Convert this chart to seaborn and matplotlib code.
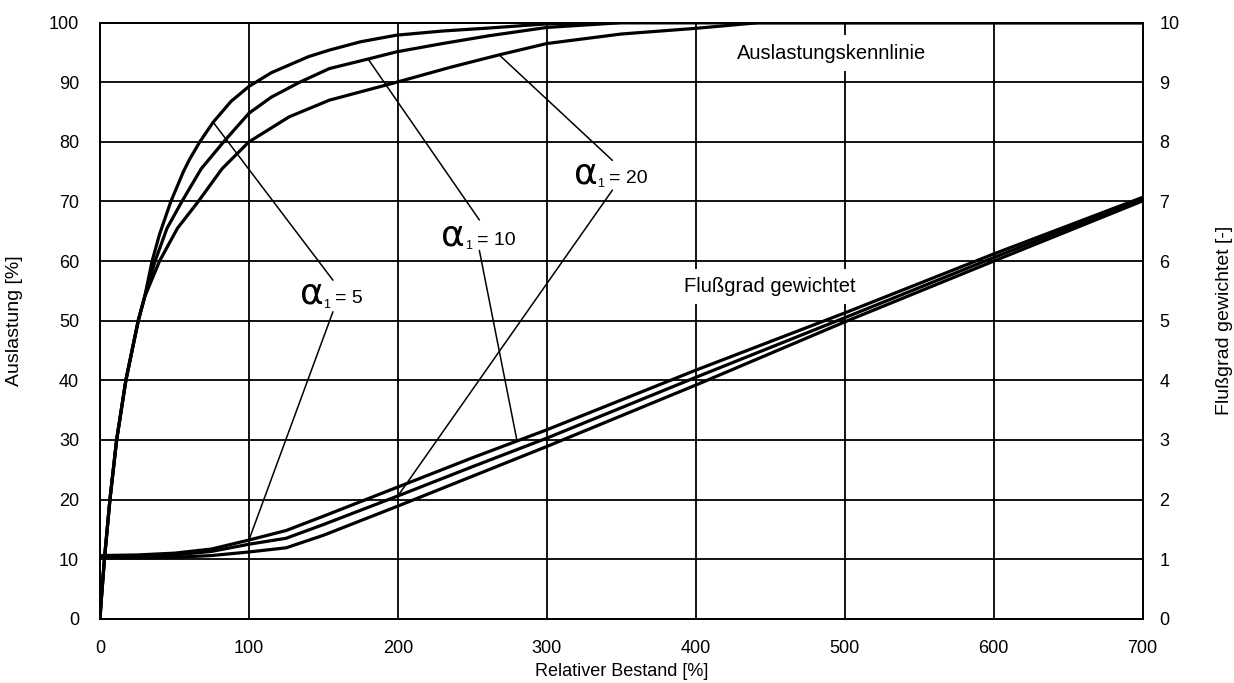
import numpy as np
import pandas as pd
import matplotlib
matplotlib.use('Agg')
import matplotlib.pyplot as plt
import seaborn as sns

sns.set_style('white')
plt.rcParams['font.family'] = ['Liberation Sans', 'DejaVu Sans']
plt.rcParams['text.color'] = 'black'
plt.rcParams['axes.labelcolor'] = 'black'

# Auslastungskennlinie (left axis, %)
x_a5 = [0, 1, 3, 6.7, 11.2, 17.4, 25.7, 30, 35, 40, 47.6, 56, 60, 67, 76, 88, 100, 115, 127, 140, 154, 175, 199, 230, 261, 300, 350, 700]
y_a5 = [0, 3.5, 10, 20, 30, 40, 50, 54, 60, 64.5, 70, 75, 77, 80, 83.3, 86.8, 89.3, 91.6, 92.9, 94.3, 95.4, 96.8, 97.9, 98.6, 99.1, 99.8, 100, 100]
x_a10 = [0, 1, 3, 6.7, 11.2, 17.4, 25.7, 30, 37, 45, 55, 68, 83, 100, 115, 134, 154, 180, 199, 230, 261, 300, 350, 700]
y_a10 = [0, 3.5, 10, 20, 30, 40, 50, 54, 60, 65.5, 70, 75.5, 80, 84.8, 87.5, 90, 92.3, 93.9, 95.1, 96.5, 97.8, 99.2, 100, 100]
x_a20 = [0, 1, 3, 6.7, 11.2, 17.4, 25.7, 30, 40, 52, 66, 82, 100, 127, 154, 199, 235, 268, 300, 350, 400, 442, 700]
y_a20 = [0, 3.5, 10, 20, 30, 40, 50, 54, 60, 65.5, 70, 75.5, 80, 84.2, 87, 90, 92.5, 94.6, 96.5, 98.1, 99.05, 100, 100]

# Flussgrad gewichtet (right axis, -)
x_f = [0, 25, 50, 75, 100, 125, 150, 200, 250, 300, 400, 500, 600, 700]
f_a5 = [1.06, 1.07, 1.10, 1.17, 1.32, 1.48, 1.72, 2.21, 2.70, 3.17, 4.17, 5.13, 6.12, 7.07]
f_a10 = [1.04, 1.05, 1.07, 1.13, 1.25, 1.35, 1.58, 2.06, 2.55, 3.03, 4.05, 5.05, 6.06, 7.04]
f_a20 = [1.02, 1.02, 1.03, 1.06, 1.12, 1.19, 1.40, 1.89, 2.39, 2.89, 3.92, 4.98, 6.00, 7.01]

x_ticks = [0, 100, 200, 300, 400, 500, 600, 700]
y_ticks_left = [0, 10, 20, 30, 40, 50, 60, 70, 80, 90, 100]
y_ticks_right = [0, 1, 2, 3, 4, 5, 6, 7, 8, 9, 10]

fig = plt.figure(figsize=(12.34, 6.83), dpi=100)
ax = fig.add_axes([0.081, 0.0941, 0.845, 0.8727])
ax2 = ax.twinx()

lw = 2.3
for xs, ys in [(x_a5, y_a5), (x_a10, y_a10), (x_a20, y_a20)]:
    sns.lineplot(x=xs, y=ys, ax=ax, color='black', linewidth=lw, sort=False, zorder=4)
for fs in [f_a5, f_a10, f_a20]:
    sns.lineplot(x=x_f, y=fs, ax=ax2, color='black', linewidth=lw, sort=False, zorder=4)

ax.set_xlim(0, 700)
ax.set_ylim(0, 100)
ax2.set_ylim(0, 10)
ax.set_xticks(x_ticks)
ax.set_yticks(y_ticks_left)
ax2.set_yticks(y_ticks_right)
ax.grid(True, color='black', linewidth=1.3)
ax2.grid(False)
ax.tick_params(axis='both', length=0, labelsize=13, pad=15, colors='black')
ax2.tick_params(axis='y', length=0, labelsize=13, pad=12, colors='black')
for a in (ax, ax2):
    for s in a.spines.values():
        s.set_color('black')
        s.set_linewidth(1.3)

ax.set_xlabel('Relativer Bestand [%]', fontsize=13)
ax.set_ylabel('Auslastung [%]', fontsize=14)
ax2.set_ylabel('Flußgrad gewichtet [-]', fontsize=14)
ax.xaxis.set_label_coords(0.5, -0.074)
ax.yaxis.set_label_coords(-0.074, 0.5)
ax2.yaxis.set_label_coords(1.07, 0.5)

box = dict(facecolor='white', edgecolor='none', pad=6)
ax.text(491, 94.9, 'Auslastungskennlinie', fontsize=14.5, ha='center', va='center', bbox=box, zorder=5)
ax.text(450, 55.7, 'Flußgrad gewichtet', fontsize=14.5, ha='center', va='center', bbox=box, zorder=5)

# alpha labels: (joint x, baseline y, value text)
labels = [(150, 52.9, '= 5'), (245, 62.7, '= 10'), (334, 73.05, '= 20')]
for lx, ly, txt in labels:
    ax.annotate('α', xy=(lx, ly), xytext=(0, 0), textcoords='offset points', family='DejaVu Sans',
                ha='right', va='baseline', fontsize=26, zorder=5)
    ax.annotate('1', xy=(lx, ly), xytext=(0, -3), textcoords='offset points',
                ha='left', va='baseline', fontsize=9, zorder=5)
    ax.annotate(txt, xy=(lx, ly), xytext=(8.5, 0), textcoords='offset points',
                ha='left', va='baseline', fontsize=14, zorder=5)

leader = dict(arrowstyle='-', color='black', linewidth=1.1, shrinkA=0, shrinkB=0)
# upper leaders to Auslastung curves
ups = [(76, x_a5, y_a5, (156.4, 56.8)), (180, x_a10, y_a10, (254.7, 66.9)), (268, x_a20, y_a20, (344, 76.9))]
for px, xs, ys, anchor in ups:
    ax.annotate('', xy=(px, np.interp(px, xs, ys)), xytext=anchor, arrowprops=leader)
# lower leaders to Flussgrad curves
downs = [(100, f_a5, (156.4, 51.5)), (280, f_a5, (254.7, 61.8)), (200, f_a10, (344, 71.9))]
for px, fs, anchor in downs:
    ax2.annotate('', xy=(px, np.interp(px, x_f, fs)), xytext=anchor, textcoords=ax.transData,
                 arrowprops=leader)

fig.savefig('out.png', dpi=100)
